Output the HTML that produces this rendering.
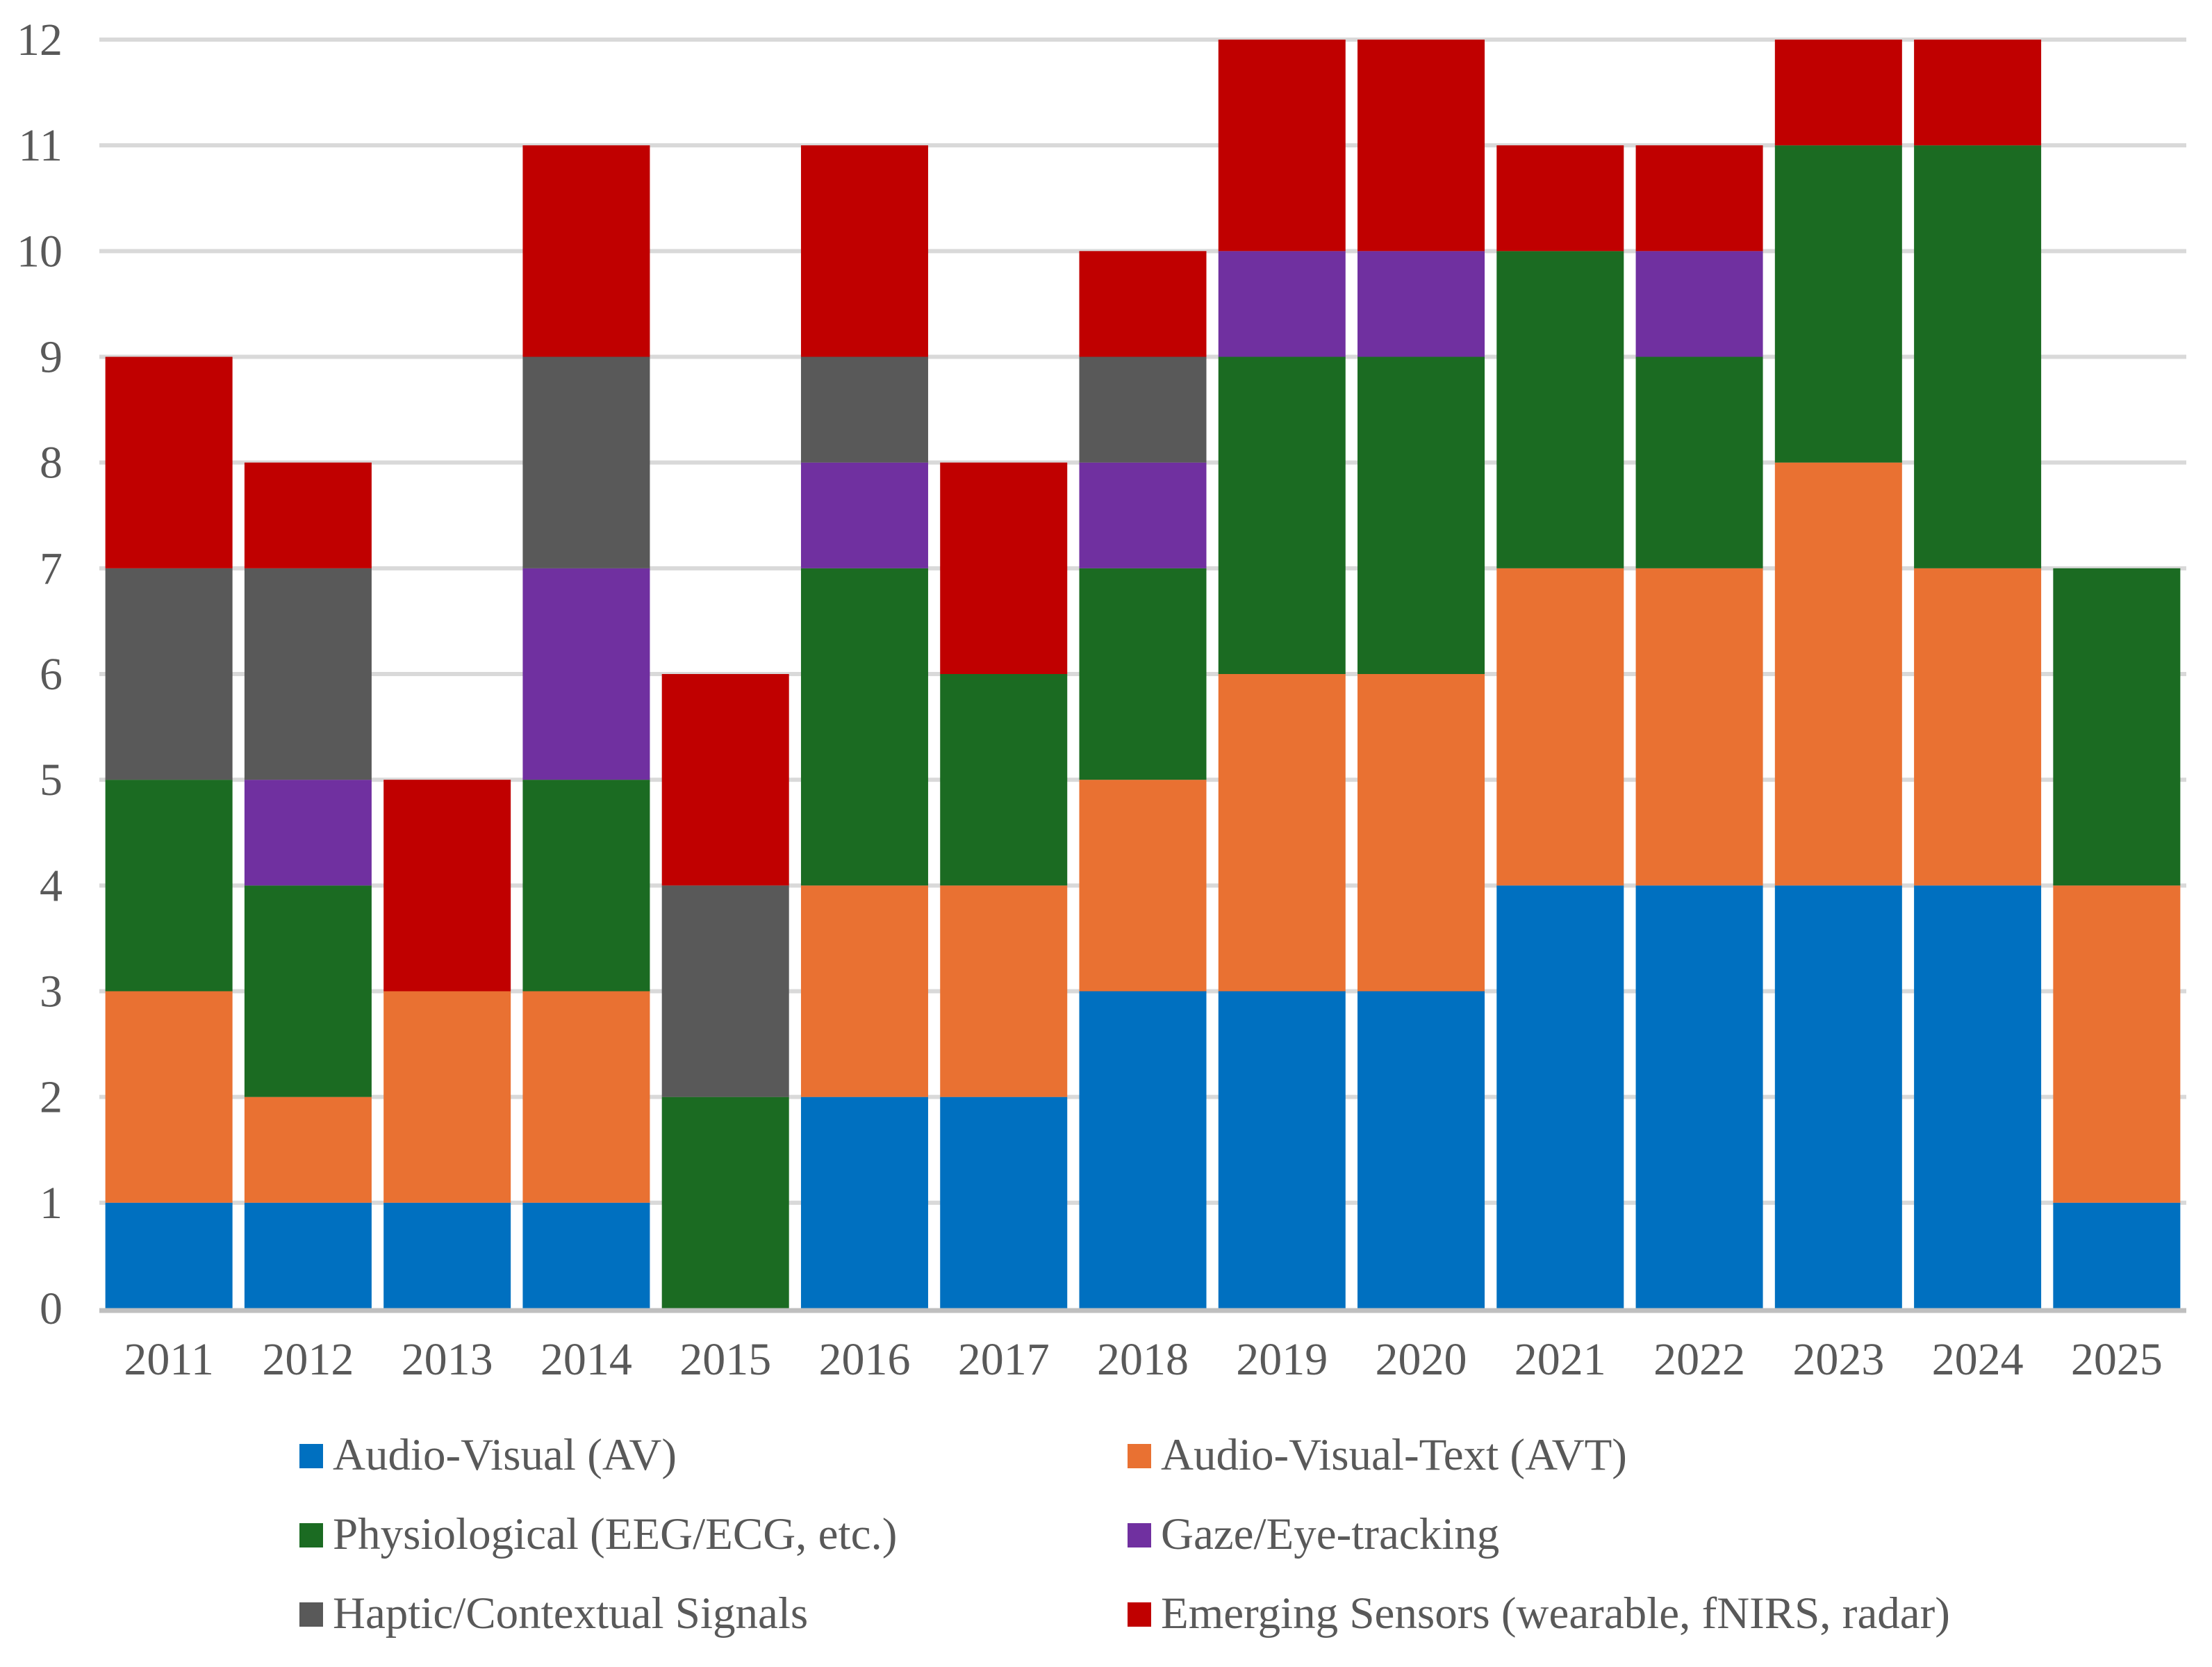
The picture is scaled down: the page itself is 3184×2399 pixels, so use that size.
<!DOCTYPE html>
<html><head><meta charset="utf-8"><style>
html,body{margin:0;padding:0;background:#fff;}
svg{display:block;font-family:"Liberation Serif",serif;}
</style></head><body>
<svg id="chart" width="3184" height="2399" viewBox="0 0 3184 2399" xmlns="http://www.w3.org/2000/svg">
<g id="grid"></g>
<g id="bars"></g>
<g id="axes"></g>
<g id="legend"></g>
</svg>
<script>
const categories = ["2011","2012","2013","2014","2015","2016","2017","2018","2019","2020","2021","2022","2023","2024","2025"];
const seriesNames = ["Audio-Visual (AV)","Audio-Visual-Text (AVT)","Physiological (EEG/ECG, etc.)","Gaze/Eye-tracking","Haptic/Contextual Signals","Emerging Sensors (wearable, fNIRS, radar)"];
const avValues       = [1,1,1,1,0,2,2,3,3,3,4,4,4,4,1];
const avtValues      = [2,1,2,2,0,2,2,2,3,3,3,3,4,3,3];
const physValues     = [2,2,0,2,2,3,2,2,3,3,3,2,3,4,3];
const gazeValues     = [0,1,0,2,0,1,0,1,1,1,0,1,0,0,0];
const hapticValues   = [2,2,0,2,2,1,0,1,0,0,0,0,0,0,0];
const emergingValues = [2,1,2,2,2,2,2,1,2,2,1,1,1,1,0];
const yTicks = [0,1,2,3,4,5,6,7,8,9,10,11,12];

const series = [avValues,avtValues,physValues,gazeValues,hapticValues,emergingValues];
const colors = ["#0070C0","#E97132","#1B6B22","#7030A0","#595959","#C00000"];
const keys = ["av","avt","physiological","gaze","haptic","emerging"];
const NS="http://www.w3.org/2000/svg";
const X0=143, X1=3147, Y0=1883, Y12=57, YMAX=12;
const band=(X1-X0)/categories.length, barW=183;
function yScale(v){return Y0-(Y0-Y12)*v/YMAX;}
function xCenter(i){return X0+band*(i+0.5);}
function mk(tag,attrs,parent){const e=document.createElementNS(NS,tag);for(const k in attrs)e.setAttribute(k,attrs[k]);parent.appendChild(e);return e;}

const grid=document.getElementById('grid');
yTicks.forEach(t=>{
  if(t>0){
    const l=mk('line',{x1:X0,x2:X1,y1:yScale(t),y2:yScale(t),stroke:'#d9d9d9','stroke-width':6},grid);
    
    
  }
});
const axes=document.getElementById('axes');
yTicks.forEach(t=>{
  const tx=mk('text',{x:90,y:yScale(t)+22,'text-anchor':'end','font-size':66,fill:'#595959'},axes);
  tx.textContent=t;
  
  
});
const bars=document.getElementById('bars');
categories.forEach((c,i)=>{
  let acc=0;
  series.forEach((s,k)=>{
    const v=s[i];
    if(v>0){
      const r=mk('rect',{x:xCenter(i)-barW/2,y:yScale(acc+v),width:barW,height:yScale(acc)-yScale(acc+v),fill:colors[k]},bars);
      
      
    }
    acc+=v;
  });
  const tx=mk('text',{x:xCenter(i),y:1978,'text-anchor':'middle','font-size':66,fill:'#595959'},axes);
  tx.textContent=c;
  
  
});
const ax=mk('line',{x1:X0,x2:X1,y1:Y0+3,y2:Y0+3,stroke:'#bfbfbf','stroke-width':7},axes);



const legend=document.getElementById('legend');
const colX=[431,1623], rowY=[2115,2229,2343];
seriesNames.forEach((n,k)=>{
  const cx=colX[k%2], ry=rowY[Math.floor(k/2)];
  const g=mk('g',{},legend);
  
  
  const r=mk('rect',{x:cx,y:ry-37,width:34,height:35,fill:colors[k]},g);
  
  
  const t=mk('text',{x:cx+48,y:ry,'font-size':65,fill:'#595959'},g);
  t.textContent=n;
  
  
});
</script>
</body></html>
